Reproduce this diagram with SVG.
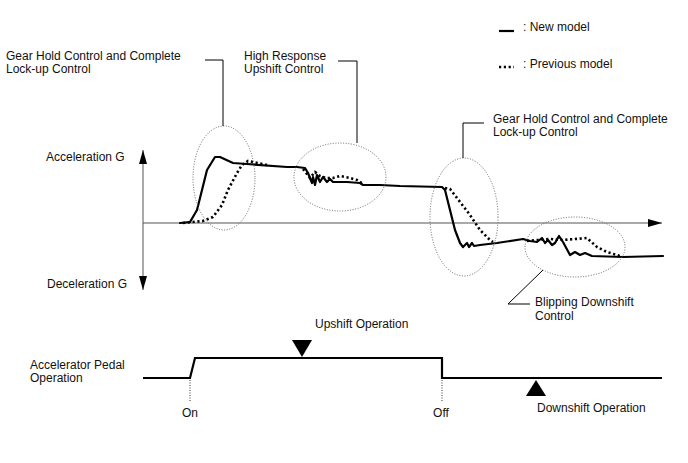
<svg xmlns="http://www.w3.org/2000/svg" width="688" height="463" viewBox="0 0 688 463">
<style>
text{font-family:"Liberation Sans",Arial,sans-serif;font-size:12px;fill:#111}
.axis{stroke:#555;stroke-width:1;fill:none}
.solid{stroke:#000;stroke-width:2.2;fill:none;stroke-linejoin:round;stroke-linecap:round}
.dot{stroke:#000;stroke-width:2.6;fill:none;stroke-dasharray:2.2 2.6}
.ell{stroke:#666;stroke-width:1;fill:none;stroke-dasharray:1 1.6}
.lead{stroke:#000;stroke-width:1;fill:none}
.pedal{stroke:#000;stroke-width:2.2;fill:none}
.vdot{stroke:#333;stroke-width:1;fill:none;stroke-dasharray:1 1.5}
</style>
<defs>
<marker id="ah" viewBox="0 0 14 8" refX="14" refY="4" markerWidth="14" markerHeight="8" markerUnits="userSpaceOnUse" orient="auto">
<path d="M0,0 L14,4 L0,8 Z" fill="#000"/>
</marker>
</defs>
<g id="legend">
<line x1="499" y1="31" x2="514" y2="31" stroke="#000" stroke-width="2.2"/>
<text x="523" y="31">: New model</text>
<line x1="499" y1="67" x2="514" y2="67" class="dot"/>
<text x="523" y="68">: Previous model</text>
</g>
<g id="axes">
<line x1="143" y1="223" x2="143" y2="150" class="axis" marker-end="url(#ah)"/>
<line x1="143" y1="223" x2="143" y2="290" class="axis" marker-end="url(#ah)"/>
<line x1="143" y1="223" x2="662" y2="223" class="axis" marker-end="url(#ah)"/>
<text x="46" y="161">Acceleration G</text>
<text x="47" y="288">Deceleration G</text>
</g>
<g id="curves">
<path class="solid" d="M180,223 L190,222 L197,210 L202,190 L207,170 L215,157 L220,157 L233,163 L247,164 L287,167 L297,167 L305,168 L308,173 L312,183 L313,177 L315,185 L317,175 L320,182 L323,177 L327,182 L330,179 L333,182 L347,182 L360,183 L363,185 L380,185 L400,186 L442,187 L445,190 L450,210 L455,230 L460,243 L463,247 L467,243 L469,247 L472,243 L474,246 L480,245 L497,243 L523,239 L530,241 L537,242 L542,238 L545,243 L548,240 L552,245 L555,243 L559,236 L563,242 L570,255 L575,252 L580,255 L585,253 L592,256 L623,257 L663,256"/>
<path class="dot" d="M183,223 L203,221 L213,217 L222,205 L228,190 L237,173 L242,165 L248,161 L258,163 L267,165"/>
<path class="dot" d="M303,169 L310,178 L315,172 L320,176 L326,178 L333,178 L340,176 L350,178 L357,180 L363,184"/>
<path class="dot" d="M445,188 L450,189 L457,198 L470,215 L480,230 L490,240 L493,242"/>
<path class="dot" d="M527,241 L550,239 L563,240 L587,238 L597,247 L607,252 L620,256"/>
</g>
<g id="ellipse1"><ellipse cx="224" cy="178" rx="31" ry="52" class="ell"/></g>
<g id="ellipse2"><ellipse cx="340" cy="177" rx="46" ry="34" class="ell"/></g>
<g id="ellipse3"><ellipse cx="464" cy="217" rx="34" ry="59" class="ell"/></g>
<g id="ellipse4"><ellipse cx="575" cy="247" rx="50" ry="30" class="ell"/></g>
<g id="label-gear-hold-1">
<polyline class="lead" points="205,60 223,60 223,126"/>
<text x="6" y="60">Gear Hold Control and Complete</text>
<text x="6" y="73">Lock-up Control</text>
</g>
<g id="label-high-response">
<polyline class="lead" points="338,61 357,61 357,143"/>
<text x="244" y="60">High Response</text>
<text x="244" y="73">Upshift Control</text>
</g>
<g id="label-gear-hold-2">
<polyline class="lead" points="484,123 463,123 463,158"/>
<text x="493" y="123">Gear Hold Control and Complete</text>
<text x="493" y="136">Lock-up Control</text>
</g>
<g id="label-blipping">
<polyline class="lead" points="543,270 508,304 530,304"/>
<text x="535" y="306">Blipping Downshift</text>
<text x="535" y="320">Control</text>
</g>
<g id="pedal">
<text x="30" y="369">Accelerator Pedal</text>
<text x="30" y="382">Operation</text>
<polyline class="pedal" points="143,378 190,378 195,358 442,358 442,378 662,378"/>
<line x1="190" y1="380" x2="190" y2="402" class="vdot"/>
<line x1="442" y1="380" x2="442" y2="402" class="vdot"/>
<text x="190" y="417" text-anchor="middle">On</text>
<text x="441" y="417" text-anchor="middle">Off</text>
</g>
<g id="upshift">
<polygon points="292,340 312,340 302,357" fill="#000"/>
<text x="315" y="328">Upshift Operation</text>
</g>
<g id="downshift">
<polygon points="526,396 546,396 536,380" fill="#000"/>
<text x="537" y="412">Downshift Operation</text>
</g>
</svg>
